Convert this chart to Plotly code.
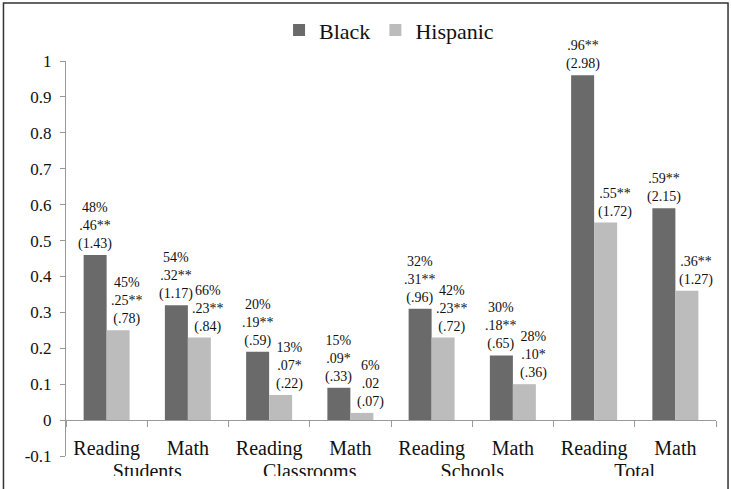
import plotly.graph_objects as go

subjects = ["Reading", "Math", "Reading", "Math", "Reading", "Math", "Reading", "Math"]
groups = ["Students", "Classrooms", "Schools", "Total"]
black_vals = [0.46, 0.32, 0.19, 0.09, 0.31, 0.18, 0.96, 0.59]
hisp_vals = [0.25, 0.23, 0.07, 0.02, 0.23, 0.10, 0.55, 0.36]
black_labels = ["48%<br>.46**<br>(1.43)", "54%<br>.32**<br>(1.17)", "20%<br>.19**<br>(.59)",
                "15%<br>.09*<br>(.33)", "32%<br>.31**<br>(.96)", "30%<br>.18**<br>(.65)",
                ".96**<br>(2.98)", ".59**<br>(2.15)"]
hisp_labels = ["45%<br>.25**<br>(.78)", "66%<br>.23**<br>(.84)", "13%<br>.07*<br>(.22)",
               "6%<br>.02<br>(.07)", "42%<br>.23**<br>(.72)", "28%<br>.10*<br>(.36)",
               ".55**<br>(1.72)", ".36**<br>(1.27)"]
y_ticks = [-0.1, 0, 0.1, 0.2, 0.3, 0.4, 0.5, 0.6, 0.7, 0.8, 0.9, 1]

FONT = "Times New Roman, Liberation Serif, serif"
DARK = "#6a6a6a"
LIGHT = "#bcbcbc"
AXIS = "#9a9a9a"
TXT = "#111111"
BARGAP = 0.434

xs = list(range(len(subjects)))
group_pos = [2 * i + 0.5 for i in range(len(groups))]
half = (1 - BARGAP) / 4  # offset of each bar centre from the category centre (data units)

fig = go.Figure()
fig.add_trace(go.Bar(x=xs, y=black_vals, name="Black", marker=dict(color=DARK, line=dict(width=0))))
fig.add_trace(go.Bar(x=xs, y=hisp_vals, name="Hispanic", marker=dict(color=LIGHT, line=dict(width=0))))
# empty helper trace so the group-label axis is drawn
fig.add_trace(go.Scatter(x=[], y=[], xaxis="x2", yaxis="y", showlegend=False, hoverinfo="skip"))

annotations = []
for x, v, t in zip(xs, black_vals, black_labels):
    annotations.append(dict(x=x - half, y=v, xref="x", yref="y", text=t, showarrow=False,
                            xanchor="center", yanchor="bottom", align="center", yshift=1,
                            font=dict(family=FONT, size=14, color=TXT)))
for x, v, t in zip(xs, hisp_vals, hisp_labels):
    annotations.append(dict(x=x + half, y=v, xref="x", yref="y", text=t, showarrow=False,
                            xanchor="center", yanchor="bottom", align="center", yshift=1, xshift=9,
                            font=dict(family=FONT, size=14, color=TXT)))

zero_pos = 0.1 / 1.1

fig.update_layout(
    width=731, height=489,
    margin=dict(l=66, r=15, t=61, b=33, autoexpand=False),
    paper_bgcolor="white", plot_bgcolor="white",
    barmode="group", bargap=BARGAP, bargroupgap=0,
    font=dict(family=FONT, color=TXT),
    showlegend=True,
    legend=dict(orientation="h", x=0.497, xanchor="center", y=1.078, yanchor="middle",
                font=dict(family=FONT, size=22, color=TXT), itemwidth=30,
                bgcolor="rgba(0,0,0,0)", traceorder="normal"),
    xaxis=dict(range=[-0.5, 7.5], tickmode="array", tickvals=xs, ticktext=subjects,
               ticks="", showgrid=False, zeroline=False, showline=True, linecolor=AXIS, linewidth=1,
               anchor="free", position=zero_pos, ticklabelstandoff=10, automargin=False,
               tickfont=dict(family=FONT, size=20, color=TXT),
               minor=dict(tick0=-0.5, dtick=1, ticks="outside", ticklen=6, tickcolor=AXIS, showgrid=False)),
    xaxis2=dict(range=[-0.5, 7.5], overlaying="x", anchor="free", position=zero_pos, side="bottom",
                tickmode="array", tickvals=group_pos, ticktext=groups, ticks="", showgrid=False,
                zeroline=False, showline=False, ticklabelstandoff=37, automargin=False,
                tickfont=dict(family=FONT, size=20, color=TXT)),
    yaxis=dict(range=[-0.1, 1.0], tickmode="array", tickvals=y_ticks,
               ticktext=[("%g" % v) for v in y_ticks], showgrid=False, zeroline=False,
               showline=True, linecolor=AXIS, linewidth=1, ticks="outside", ticklen=5, tickcolor=AXIS,
               ticklabelstandoff=5, automargin=False, tickfont=dict(family=FONT, size=17, color=TXT)),
    annotations=annotations,
    shapes=[
        dict(type="rect", xref="paper", yref="paper", x0=-0.094, x1=1.0154, y0=-0.2, y1=-0.0506,
             fillcolor="white", line=dict(width=0), layer="above"),
        dict(type="rect", xref="paper", yref="paper", x0=-0.0962, x1=1.0185, y0=-0.2, y1=1.1468,
             fillcolor="rgba(0,0,0,0)", line=dict(color="#333333", width=1.5), layer="above"),
    ],
)

fig.write_html("out.html")
